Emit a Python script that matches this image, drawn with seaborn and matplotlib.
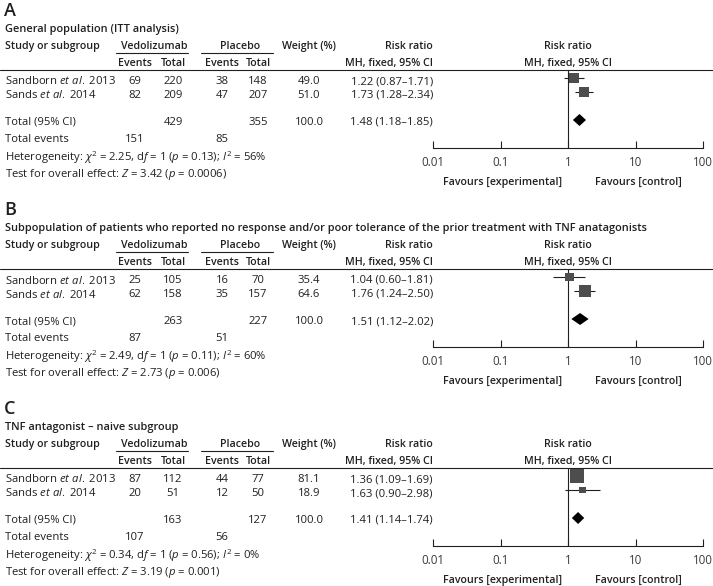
import matplotlib
matplotlib.use("Agg")
import matplotlib.pyplot as plt
from matplotlib.lines import Line2D
import pandas as pd
import seaborn as sns

# ---- data ----
PANEL_LETTERS = ["A", "B", "C"]
PANEL_TITLES = [
    "General population (ITT analysis)",
    "Subpopulation of patients who reported no response and/or poor tolerance of the prior treatment with TNF anatagonists",
    "TNF antagonist \u2013 naive subgroup",
]
STUDIES = [r"Sandborn $et\ al.$ 2013", r"Sands $et\ al.$ 2014"]
VEDO_EVENTS = [[69, 82], [25, 62], [87, 20]]
VEDO_TOTAL = [[220, 209], [105, 158], [112, 51]]
PLAC_EVENTS = [[38, 47], [16, 35], [44, 12]]
PLAC_TOTAL = [[148, 207], [70, 157], [77, 50]]
WEIGHTS = [[49.0, 51.0], [35.4, 64.6], [81.1, 18.9]]
RR = [[1.22, 1.73], [1.04, 1.76], [1.36, 1.63]]
RR_LO = [[0.87, 1.28], [0.60, 1.24], [1.09, 0.90]]
RR_HI = [[1.71, 2.34], [1.81, 2.50], [1.69, 2.98]]
TOTAL_VEDO = [429, 263, 163]
TOTAL_PLAC = [355, 227, 127]
EVENTS_VEDO = [151, 87, 107]
EVENTS_PLAC = [85, 51, 56]
POOLED_RR = [1.48, 1.51, 1.41]
POOLED_LO = [1.18, 1.12, 1.14]
POOLED_HI = [1.85, 2.02, 1.74]
CHI2 = ["2.25", "2.49", "0.34"]
HET_P = ["0.13", "0.11", "0.56"]
I2 = [56, 60, 0]
Z = ["3.42", "2.73", "3.19"]
Z_P = ["0.0006", "0.006", "0.001"]
AXIS_TICKS = [0.01, 0.1, 1, 10, 100]
AXIS_LABELS = ["0.01", "0.1", "1", "10", "100"]

# ---- layout (pixels from top-left) ----
W, H = 713, 586
PANEL_OFFSET = [0, 199, 398]
FS = 8.1      # body text
FS_HEAD = 7.7  # bold column headers
FS_TITLE = 7.9
INK = "#231f20"
SQUARE = "#4d4d4d"
X_EV1, X_TOT1, X_EV2, X_TOT2, X_W, X_RR = 135, 173, 222, 258, 309, 433
FOREST_L, FOREST_R, X_ONE = 433, 703, 568
Y_LINE, Y_ROWS, Y_TOTAL, Y_AXIS = 70, [78, 92], 120, 148

sns.set_theme(style="white")
plt.rcParams.update(
    {
        "font.family": ["Open Sans", "DejaVu Sans"],
        "mathtext.fontset": "custom",
        "mathtext.rm": "Open Sans",
        "mathtext.it": "Open Sans:italic",
        "mathtext.bf": "Open Sans:bold",
        "text.color": INK,
    }
)

fig = plt.figure(figsize=(W / 100, H / 100), dpi=100)
fig.patch.set_facecolor("white")


def put(x, y, s, **kw):
    kw.setdefault("fontsize", FS)
    kw.setdefault("va", "center_baseline")
    fig.text(x / W, 1 - y / H, s, **kw)


def head(x, y, s, **kw):
    put(x, y, s, fontsize=FS_HEAD, fontweight="semibold", **kw)


def hline(x0, x1, y, lw=0.8):
    fig.add_artist(Line2D([x0 / W, x1 / W], [1 - y / H, 1 - y / H], color=INK, lw=lw,
                          transform=fig.transFigure))


for p in range(3):
    o = PANEL_OFFSET[p]
    put(4, o + 9, PANEL_LETTERS[p], fontsize=13, fontweight="semibold")
    put(5, o + 28, PANEL_TITLES[p], fontsize=FS_TITLE, fontweight="semibold")

    # column headers
    head(5, o + 45, "Study or subgroup")
    head(154, o + 45, "Vedolizumab", ha="center")
    head(240, o + 45, "Placebo", ha="center")
    head(X_W, o + 45, "Weight (%)", ha="center")
    head(X_RR, o + 45, "Risk ratio", ha="right")
    head(X_ONE, o + 45, "Risk ratio", ha="center")
    hline(116, 188, o + 53)
    hline(201, 273, o + 53)
    for x, lab in [(X_EV1, "Events"), (X_TOT1, "Total"), (X_EV2, "Events"), (X_TOT2, "Total")]:
        head(x, o + 62, lab, ha="center")
    head(X_RR, o + 62, "MH, fixed, 95% CI", ha="right")
    head(X_ONE, o + 62, "MH, fixed, 95% CI", ha="center")
    hline(0, W, o + Y_LINE)

    # study rows
    for i in range(2):
        y = o + Y_ROWS[i] + 2
        put(5, y, STUDIES[i])
        put(X_EV1, y, str(VEDO_EVENTS[p][i]), ha="center")
        put(X_TOT1, y, str(VEDO_TOTAL[p][i]), ha="center")
        put(X_EV2, y, str(PLAC_EVENTS[p][i]), ha="center")
        put(X_TOT2, y, str(PLAC_TOTAL[p][i]), ha="center")
        put(X_W, y, f"{WEIGHTS[p][i]:.1f}", ha="center")
        put(X_RR, y, f"{RR[p][i]:.2f} ({RR_LO[p][i]:.2f}\u2013{RR_HI[p][i]:.2f})", ha="right")

    y = o + Y_TOTAL + 1
    put(5, y, "Total (95% CI)")
    put(X_TOT1, y, str(TOTAL_VEDO[p]), ha="center")
    put(X_TOT2, y, str(TOTAL_PLAC[p]), ha="center")
    put(X_W, y, "100.0", ha="center")
    put(X_RR, y, f"{POOLED_RR[p]:.2f} ({POOLED_LO[p]:.2f}\u2013{POOLED_HI[p]:.2f})", ha="right")
    put(5, o + 138, "Total events")
    put(X_EV1, o + 138, str(EVENTS_VEDO[p]), ha="center")
    put(X_EV2, o + 138, str(EVENTS_PLAC[p]), ha="center")
    put(5, o + 155, rf"Heterogeneity: $\chi^2$ = {CHI2[p]}, d$f$ = 1 ($p$ = {HET_P[p]}); $I^2$ = {I2[p]}%")
    put(5, o + 172, rf"Test for overall effect: $Z$ = {Z[p]} ($p$ = {Z_P[p]})")

    # forest plot
    ax = fig.add_axes([FOREST_L / W, 1 - (o + Y_AXIS) / H, (FOREST_R - FOREST_L) / W,
                       (Y_AXIS - Y_LINE) / H])
    ax.set_facecolor("none")
    ax.set_xscale("log")
    ax.set_xlim(AXIS_TICKS[0], AXIS_TICKS[-1])
    ax.set_ylim(Y_AXIS, Y_LINE)
    ax.axvline(1, color=INK, lw=0.8, zorder=1)

    df = pd.DataFrame({"rr": RR[p], "lo": RR_LO[p], "hi": RR_HI[p], "w": WEIGHTS[p], "y": Y_ROWS})
    ax.hlines(df["y"], df["lo"], df["hi"], color=INK, lw=0.8, zorder=2)
    sns.scatterplot(data=df, x="rr", y="y", size="w", sizes=(0, 115), size_norm=(0, 100),
                    marker="s", color=SQUARE, edgecolor="none", linewidth=0, legend=False,
                    ax=ax, zorder=3)
    ax.fill([POOLED_LO[p], POOLED_RR[p], POOLED_HI[p], POOLED_RR[p]],
            [Y_TOTAL, Y_TOTAL - 6, Y_TOTAL, Y_TOTAL + 6], color="black", lw=0, zorder=3)

    ax.set_xticks(AXIS_TICKS)
    ax.set_xticklabels(AXIS_LABELS)
    ax.minorticks_off()
    ax.tick_params(axis="x", direction="in", length=5, width=0.8, color=INK, pad=6,
                   labelsize=8.3, labelcolor="#3a3a3a", bottom=True)
    ax.set_yticks([])
    ax.set_xlabel("")
    ax.set_ylabel("")
    for side in ["left", "top", "right"]:
        ax.spines[side].set_visible(False)
    ax.spines["bottom"].set_color(INK)
    ax.spines["bottom"].set_linewidth(0.8)

    head(503, o + 181, "Favours [experimental]", ha="center")
    head(638, o + 181, "Favours [control]", ha="center")

fig.savefig("out.png", dpi=100, facecolor="white")
